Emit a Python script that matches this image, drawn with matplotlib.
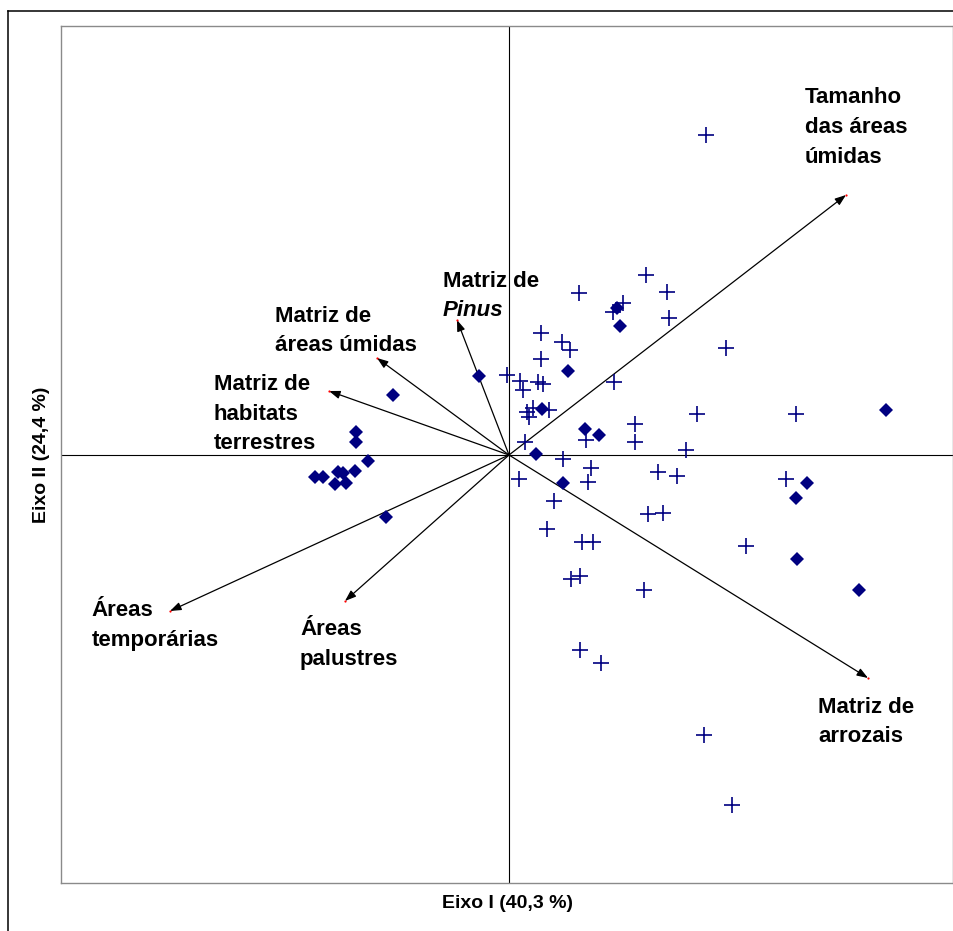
import matplotlib
matplotlib.use("Agg")
import matplotlib.pyplot as plt
from matplotlib.lines import Line2D

plt.rcParams["font.family"] = ["Liberation Sans", "DejaVu Sans"]

# Site scores (crosses) on axes I and II
site_x = [0.984, 0.684, 0.349, 0.789, 0.572, 0.522, 0.802, 0.159, 0.264, 0.305,
          0.159, 1.085, -0.008, 0.053, 0.072, 0.145, 0.172, 0.527, 0.089, 0.102,
          0.122, 0.202, 0.939, 0.630, 0.630, 0.385, 0.080, 0.884, 0.272, 0.409,
          0.397, 0.744, 0.839, 0.048, 0.227, 0.192, 0.364, 0.419, 0.309, 0.355,
          0.697, 0.772, 0.675, 0.355, 0.459, 0.974, 1.115, 1.435, 1.385, 1.184]
site_y = [1.600, 0.900, 0.809, 0.817, 0.762, 0.717, 0.684, 0.612, 0.567, 0.525,
          0.479, 0.534, 0.400, 0.370, 0.325, 0.363, 0.355, 0.367, 0.213, 0.188,
          0.234, 0.225, 0.205, 0.155, 0.067, 0.075, 0.067, 0.025, -0.020, -0.067,
          -0.134, -0.084, -0.105, -0.120, -0.230, -0.370, -0.437, -0.437, -0.620, -0.604,
          -0.295, -0.289, -0.675, -0.975, -1.042, -1.400, -1.752, 0.204, -0.120, -0.454]

# Species scores (diamonds)
species_x = [0.539, 0.555, 0.295, 0.164, 0.380, 0.452, 0.133, 0.272, -0.152, -0.579,
             -0.765, -0.765, -0.704, -0.770, -0.970, -0.929, -0.854, -0.829, -0.870, -0.815,
             -0.615, 1.884, 1.489, 1.435, 1.442, 1.750]
species_y = [0.737, 0.645, 0.422, 0.228, 0.130, 0.100, 0.003, -0.139, 0.397, 0.300,
             0.117, 0.067, -0.029, -0.080, -0.109, -0.109, -0.084, -0.092, -0.147, -0.142,
             -0.312, 0.225, -0.142, -0.214, -0.520, -0.675]

# Environmental variable vectors
env_names = ["Tamanho das áreas úmidas", "Matriz de Pinus", "Matriz de áreas úmidas",
             "Matriz de habitats terrestres", "Áreas temporárias", "Áreas palustres",
             "Matriz de arrozais"]
env_x = [1.685, -0.260, -0.660, -0.900, -1.695, -0.820, 1.795]
env_y = [1.300, 0.675, 0.485, 0.320, -0.780, -0.730, -1.115]

# Label lines for each vector (text, italic?)
env_lines = [
    [("Tamanho", False), ("das áreas", False), ("úmidas", False)],
    [("Matriz de", False), ("Pinus", True)],
    [("Matriz de", False), ("áreas úmidas", False)],
    [("Matriz de", False), ("habitats", False), ("terrestres", False)],
    [("Áreas", False), ("temporárias", False)],
    [("Áreas", False), ("palustres", False)],
    [("Matriz de", False), ("arrozais", False)],
]
# Baseline of the first line of each label (data units)
label_pos = [(1.48, 1.758), (-0.332, 0.842), (-1.17, 0.667), (-1.475, 0.325),
             (-2.087, -0.805), (-1.045, -0.900), (1.545, -1.289)]
line_step = 0.148

navy = "#000080"

fig = plt.figure(figsize=(9.54, 9.31), dpi=100)
ax = fig.add_axes([61 / 954, (931 - 883) / 931, 892 / 954, 857 / 931])
ax.set_xlim(-2.24, 2.22)
ax.set_ylim(-2.14, 2.145)
ax.set_xticks([])
ax.set_yticks([])
for sp in ax.spines.values():
    sp.set_color("#8a8a8a")
    sp.set_linewidth(1.0)

ax.axhline(0, color="black", lw=0.8, zorder=1)
ax.axvline(0, color="black", lw=0.8, zorder=1)

for ex, ey in zip(env_x, env_y):
    ax.annotate("", xy=(ex, ey), xytext=(0, 0),
                arrowprops=dict(arrowstyle="-|>,head_length=0.55,head_width=0.2",
                                color="black", lw=0.9, shrinkA=0, shrinkB=0,
                                mutation_scale=12), zorder=2)
ax.plot(env_x, env_y, ls="none", marker="o", ms=1.6, color="red", mew=0, zorder=3)

ax.plot(site_x, site_y, ls="none", marker="+", ms=11, mew=1.2, color=navy, zorder=4)
ax.plot(species_x, species_y, ls="none", marker="D", ms=6.8, mew=0, color=navy, zorder=5)

for lines, (lx, ly) in zip(env_lines, label_pos):
    for i, (txt, ital) in enumerate(lines):
        ax.text(lx, ly - i * line_step, txt, fontsize=16, fontweight="bold",
                fontstyle="italic" if ital else "normal",
                ha="left", va="baseline", zorder=6)

fig.text(508 / 954, 1 - 903 / 931, "Eixo I (40,3 %)", fontsize=14, fontweight="bold",
         ha="center", va="center")
fig.text(42 / 954, 1 - 455 / 931, "Eixo II (24,4 %)", fontsize=14, fontweight="bold",
         ha="center", va="center", rotation=90)

# Outer frame
fig.add_artist(Line2D([8 / 954, 1.0], [1 - 11 / 931, 1 - 11 / 931],
                      transform=fig.transFigure, color="black", lw=1.1))
fig.add_artist(Line2D([8 / 954, 8 / 954], [0.0, 1 - 11 / 931],
                      transform=fig.transFigure, color="black", lw=1.1))

fig.savefig("out.png", dpi=100)
